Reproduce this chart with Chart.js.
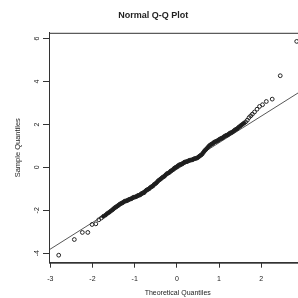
<!DOCTYPE html>
<html>
<head>
<meta charset="utf-8">
<script src="https://cdn.jsdelivr.net/npm/chart.js@4"></script>
<style>
    body { margin: 0; overflow: hidden; background: #fff; }
    #divGrafico { width: 298px; height: 298px; overflow: hidden; }
</style>
</head>
<body>
<div id="divGrafico"><canvas id="grafico" width="355" height="298"></canvas></div>
<script>
// theoretical quantiles (x) and sample quantiles (y)
var quantisTeoricos = [
    -2.80, -2.43, -2.24, -2.11, -2.01, -1.92, -1.85, -1.79, -1.74, -1.69,
    -1.65, -1.61, -1.57, -1.53, -1.50, -1.47, -1.44, -1.41, -1.38, -1.35,
    -1.32, -1.29, -1.26, -1.23, -1.20, -1.17, -1.14, -1.11, -1.08, -1.05,
    -1.02, -0.99, -0.96, -0.93, -0.90, -0.87, -0.84, -0.81, -0.78, -0.75,
    -0.72, -0.69, -0.66, -0.63, -0.60, -0.57, -0.54, -0.51, -0.48, -0.45,
    -0.42, -0.39, -0.36, -0.33, -0.30, -0.27, -0.24, -0.21, -0.18, -0.15,
    -0.12, -0.09, -0.06, -0.03, 0.00, 0.03, 0.06, 0.09, 0.12, 0.15,
    0.18, 0.21, 0.24, 0.27, 0.30, 0.33, 0.36, 0.39, 0.42, 0.45,
    0.48, 0.51, 0.54, 0.57, 0.60, 0.63, 0.66, 0.69, 0.72, 0.75,
    0.78, 0.81, 0.84, 0.87, 0.90, 0.93, 0.96, 0.99, 1.02, 1.05,
    1.08, 1.11, 1.14, 1.17, 1.20, 1.23, 1.26, 1.29, 1.32, 1.35,
    1.38, 1.41, 1.44, 1.47, 1.51, 1.55, 1.59, 1.63, 1.67, 1.71,
    1.75, 1.79, 1.84, 1.90, 1.96, 2.03, 2.12, 2.26, 2.45, 2.84
];
var quantisAmostra = [
    -4.09, -3.36, -3.03, -3.03, -2.66, -2.63, -2.44, -2.36, -2.28, -2.22,
    -2.15, -2.10, -2.04, -1.98, -1.93, -1.88, -1.84, -1.80, -1.76, -1.71,
    -1.68, -1.65, -1.61, -1.57, -1.56, -1.54, -1.50, -1.48, -1.46, -1.42,
    -1.39, -1.38, -1.36, -1.32, -1.30, -1.28, -1.23, -1.20, -1.18, -1.12,
    -1.06, -1.03, -1.00, -0.94, -0.90, -0.87, -0.80, -0.76, -0.71, -0.64,
    -0.59, -0.55, -0.50, -0.45, -0.42, -0.36, -0.30, -0.27, -0.24, -0.18,
    -0.14, -0.10, -0.04, 0.00, 0.03, 0.08, 0.12, 0.14, 0.16, 0.20,
    0.24, 0.26, 0.27, 0.30, 0.33, 0.34, 0.35, 0.38, 0.41, 0.42,
    0.44, 0.48, 0.53, 0.57, 0.62, 0.70, 0.78, 0.84, 0.90, 0.97,
    1.03, 1.07, 1.10, 1.15, 1.19, 1.21, 1.24, 1.28, 1.32, 1.35,
    1.37, 1.42, 1.46, 1.49, 1.51, 1.55, 1.60, 1.62, 1.65, 1.70,
    1.75, 1.78, 1.82, 1.88, 1.94, 2.00, 2.06, 2.12, 2.20, 2.32,
    2.40, 2.48, 2.58, 2.71, 2.84, 2.92, 3.07, 3.18, 4.27, 5.87
];
// qq line end points
var linhaX = [-3.05, 3.10];
var linhaY = [-3.87, 3.75];

var ticksX = [-3, -2, -1, 0, 1, 2, 3];
var ticksY = [-4, -2, 0, 2, 4, 6];

var corTexto = '#222';
var fonte = 'Liberation Sans, Arial, sans-serif';

function montarPontos(xs, ys) {
    var pontos = [];
    for (var i = 0; i < xs.length; i++) {
        pontos.push({ x: xs[i], y: ys[i] });
    }
    return pontos;
}

// the packed middle of the cloud prints as a solid black band
function corPreenchimento(c) {
    var x = quantisTeoricos[c.dataIndex];
    return (x > -1.75 && x < 1.6) ? '#1a1a1a' : 'rgba(0,0,0,0)';
}

// box around the plot area (R style)
var pluginMoldura = {
    id: 'moldura',
    afterDraw: function (chart) {
        var area = chart.chartArea;
        var ctx = chart.ctx;
        ctx.save();
        ctx.strokeStyle = '#333';
        ctx.lineWidth = 1;
        ctx.strokeRect(area.left + 0.5, area.top + 0.5, area.right - area.left, area.bottom - area.top);
        ctx.restore();
    }
};

function criarGrafico() {
    var contexto = document.getElementById('grafico').getContext('2d');
    var grafico = new Chart(contexto, {
        type: 'scatter',
        data: {
            datasets: [{
                data: montarPontos(quantisTeoricos, quantisAmostra),
                pointStyle: 'circle',
                pointRadius: 1.9,
                borderColor: '#222',
                borderWidth: 1,
                backgroundColor: corPreenchimento,
            }, {
                type: 'line',
                data: montarPontos(linhaX, linhaY),
                borderColor: '#444',
                borderWidth: 0.9,
                pointRadius: 0,
                fill: false,
            }],
        },
        options: {
            responsive: false,
            animation: false,
            events: [],
            layout: { padding: { left: 0, right: 48.6, top: 0, bottom: 0 }, autoPadding: false },
            plugins: {
                legend: { display: false },
                tooltip: { enabled: false },
                title: {
                    display: true,
                    text: 'Normal Q-Q Plot',
                    color: corTexto,
                    font: { family: fonte, size: 9, weight: 'bold' },
                    padding: { top: 10, bottom: 12 },
                },
            },
            scales: {
                x: {
                    type: 'linear',
                    min: -3.03,
                    max: 3.07,
                    afterFit: function (s) { s.height = 35.3; },
                    afterBuildTicks: function (s) { s.ticks = ticksX.map(function (v) { return { value: v }; }); },
                    grid: { drawOnChartArea: false, drawTicks: true, tickLength: 5, color: '#333' },
                    border: { display: true, color: '#333' },
                    ticks: { color: corTexto, font: { family: fonte, size: 7 }, padding: 7, maxRotation: 0 },
                    title: {
                        display: true,
                        text: 'Theoretical Quantiles',
                        color: corTexto,
                        font: { family: fonte, size: 7 },
                        padding: { top: 0, bottom: 1 },
                    },
                },
                y: {
                    type: 'linear',
                    min: -4.44,
                    max: 6.27,
                    afterFit: function (s) { s.width = 49; },
                    afterBuildTicks: function (s) { s.ticks = ticksY.map(function (v) { return { value: v }; }); },
                    grid: { drawOnChartArea: false, drawTicks: true, tickLength: 6, color: '#333' },
                    border: { display: true, color: '#333' },
                    ticks: { color: corTexto, font: { family: fonte, size: 7 }, padding: 3, minRotation: 90, maxRotation: 90, crossAlign: 'center' },
                    title: {
                        display: true,
                        text: 'Sample Quantiles',
                        color: corTexto,
                        font: { family: fonte, size: 7.5 },
                        padding: { top: 13, bottom: 0 },
                    },
                },
            },
        },
        plugins: [pluginMoldura],
    });
}

if (document.getElementById('grafico')) {
    criarGrafico();
}
</script>
</body>
</html>
